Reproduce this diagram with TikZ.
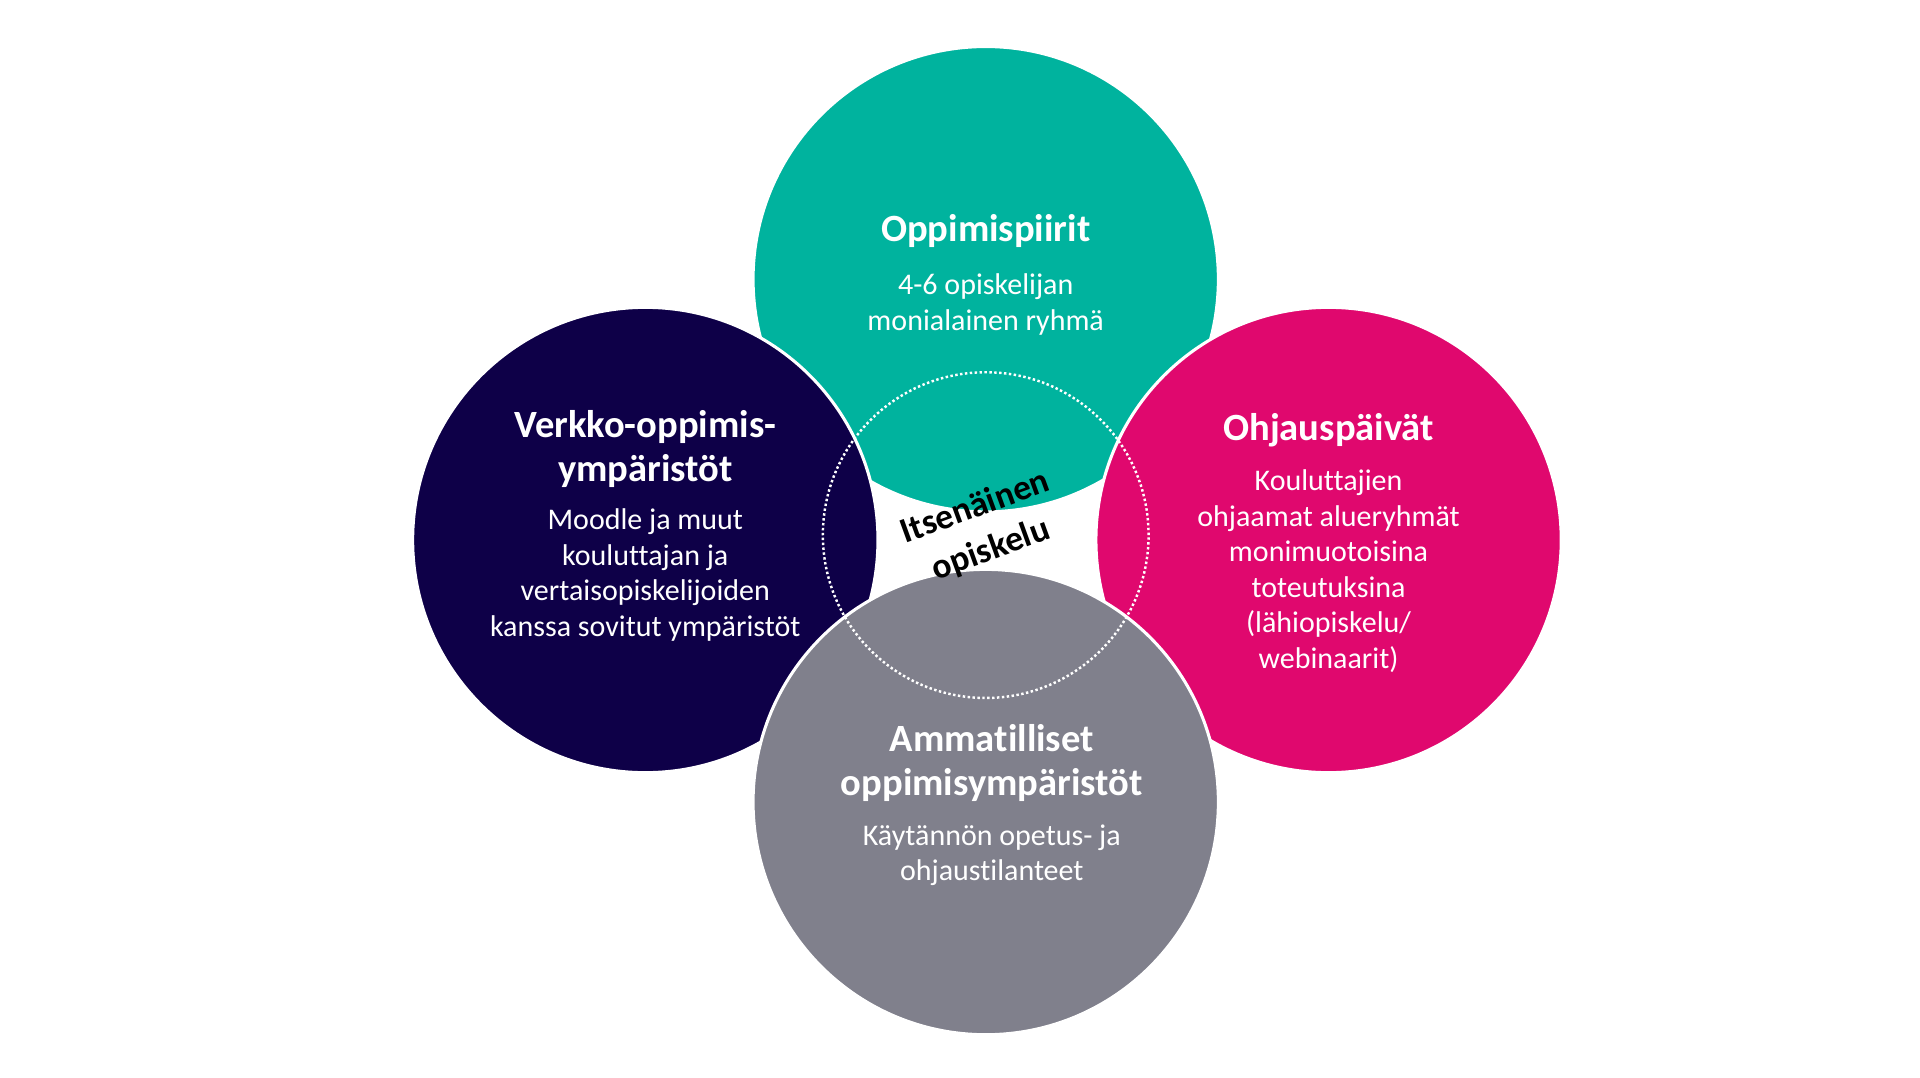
\documentclass[tikz,border=0pt]{standalone}
\usepackage{fontspec}
\setmainfont[Ligatures=NoCommon]{Carlito}
\usetikzlibrary{positioning}
\definecolor{teal}{HTML}{00B39E}
\definecolor{navy}{HTML}{0E0048}
\definecolor{magenta}{HTML}{E0086E}
\definecolor{greyc}{HTML}{80808C}
\begin{document}
\begin{tikzpicture}[x=1pt,y=-1pt,
  blob/.style={circle, draw=white, line width=2.5pt, minimum size=380pt, inner sep=0pt},
  head/.style={text=white, font=\fontsize{31.5}{36}\selectfont\bfseries, align=center},
  body/.style={text=white, font=\fontsize{24.5}{29}\selectfont, align=center}
]
\useasboundingbox (0,0) rectangle (1568,880);
\node[blob, fill=teal] (piirit) at (805,228) {};
\node[blob, fill=navy] (verkko) at (527,441) {};
\node[blob, fill=magenta] (ohjaus) at (1085,441) {};
\node[blob, fill=greyc] (amm) at (805,655) {};
\node[circle, draw=white, dotted, line width=2pt, minimum size=266pt] (itse) at (805,437) {};

\node[head] (piirith) at (805,189) {Oppimispiirit};
\node[body, below=14pt of piirith] {4-6 opiskelijan\\monialainen ryhmä};
\node[head] (verkkoh) at (527,367) {Verkko-oppimis-\\ympäristöt};
\node[body, below=10pt of verkkoh] {Moodle ja muut\\kouluttajan ja\\vertaisopiskelijoiden\\kanssa sovitut ympäristöt};
\node[head] (ohjaush) at (1085,351) {Ohjauspäivät};
\node[body, below=12pt of ohjaush] {Kouluttajien\\ohjaamat alueryhmät\\monimuotoisina\\toteutuksina\\(lähiopiskelu/\\webinaarit)};
\node[head] (ammh) at (810,623) {Ammatilliset\\oppimisympäristöt};
\node[body, below=12pt of ammh] {Käytännön opetus- ja\\ohjaustilanteet};
\node[font=\fontsize{29}{37}\selectfont\bfseries, align=center, rotate=20] (itseh) at (803,432) {Itsenäinen\\opiskelu};
\end{tikzpicture}
\end{document}
